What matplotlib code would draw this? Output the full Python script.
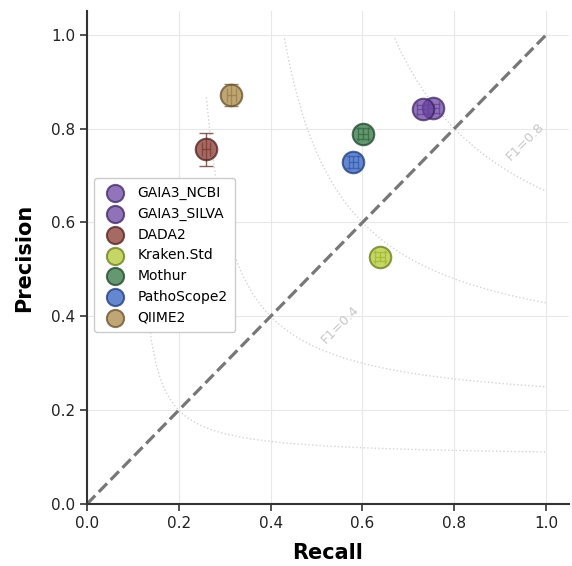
import numpy as np
import matplotlib.pyplot as plt

# Mittlere Werte je Werkzeug (Recall, Precision) und Standardabweichungen
tools = ["GAIA3_NCBI", "GAIA3_SILVA", "DADA2", "Kraken.Std", "Mothur", "PathoScope2", "QIIME2"]
recall = [0.754, 0.731, 0.259, 0.638, 0.601, 0.580, 0.314]
precision = [0.843, 0.841, 0.756, 0.527, 0.789, 0.729, 0.872]
recall_sd = [0.012, 0.012, 0.008, 0.010, 0.010, 0.010, 0.010]
precision_sd = [0.010, 0.010, 0.035, 0.010, 0.012, 0.012, 0.024]

fill_colors = ["#6d46a3", "#6a43a0", "#883831", "#b3c931", "#317442", "#325fbf", "#aa8845"]
edge_colors = ["#3f2866", "#3d2563", "#52201c", "#687a18", "#1c4528", "#1d3a7a", "#67512a"]

f1_levels = [0.2, 0.4, 0.6, 0.8]
f1_labeled = {0.4: (0.551, 0.382), 0.8: (0.954, 0.772)}

fig = plt.figure(figsize=(5.72, 5.66), dpi=100)
ax = fig.add_axes([0.152, 0.1095, 0.843, 0.8705])

# Iso-F1-Kurven
x = np.linspace(0.01, 1.0, 100)
for f in f1_levels:
    with np.errstate(divide="ignore"):
        y = f * x / (2 * x - f)
    mask = (y > 0) & (y < 1.0)
    ax.plot(x[mask], y[mask], color="#d4d4d4", linestyle=":", linewidth=1.0, zorder=1)
    if f in f1_labeled:
        tx, ty = f1_labeled[f]
        ax.text(tx, ty, f"F1={f}", color="#c8c8c8", fontsize=9.5, rotation=45,
                ha="center", va="center", zorder=1)

# Diagonale Precision = Recall
ax.plot([0, 1], [0, 1], color="#777777", linestyle="--", linewidth=2.3, zorder=2)

for i, name in enumerate(tools):
    ax.errorbar(recall[i], precision[i], xerr=recall_sd[i], yerr=precision_sd[i],
                fmt="none", ecolor=edge_colors[i], elinewidth=1.0, capsize=5,
                alpha=0.7, zorder=3)
    ax.scatter(recall[i], precision[i], s=240, color=fill_colors[i], alpha=0.75,
               edgecolors=edge_colors[i], linewidths=1.5, label=name, zorder=4)

ax.set_xlim(0, 1.05)
ax.set_ylim(0, 1.05)
ax.set_xticks(np.arange(0, 1.01, 0.2))
ax.set_yticks(np.arange(0, 1.01, 0.2))
ax.grid(True, color="#e8e8e8", linewidth=0.8, zorder=0)
ax.set_axisbelow(True)

for side in ["top", "right"]:
    ax.spines[side].set_visible(False)
for side in ["left", "bottom"]:
    ax.spines[side].set_color("#333333")
    ax.spines[side].set_linewidth(1.5)
ax.tick_params(axis="both", labelsize=11, length=5, width=1.2, color="#333333", labelcolor="#222222")

ax.set_xlabel("Recall", fontsize=15, fontweight="bold", labelpad=9)
ax.set_ylabel("Precision", fontsize=15, fontweight="bold", labelpad=12)

ax.legend(loc="center left", bbox_to_anchor=(0.0, 0.505), fontsize=10, frameon=True,
          edgecolor="#cccccc", framealpha=1.0, labelspacing=0.48, handletextpad=0.6,
          borderpad=0.55, markerscale=0.8)

fig.savefig("out.png", dpi=100)
